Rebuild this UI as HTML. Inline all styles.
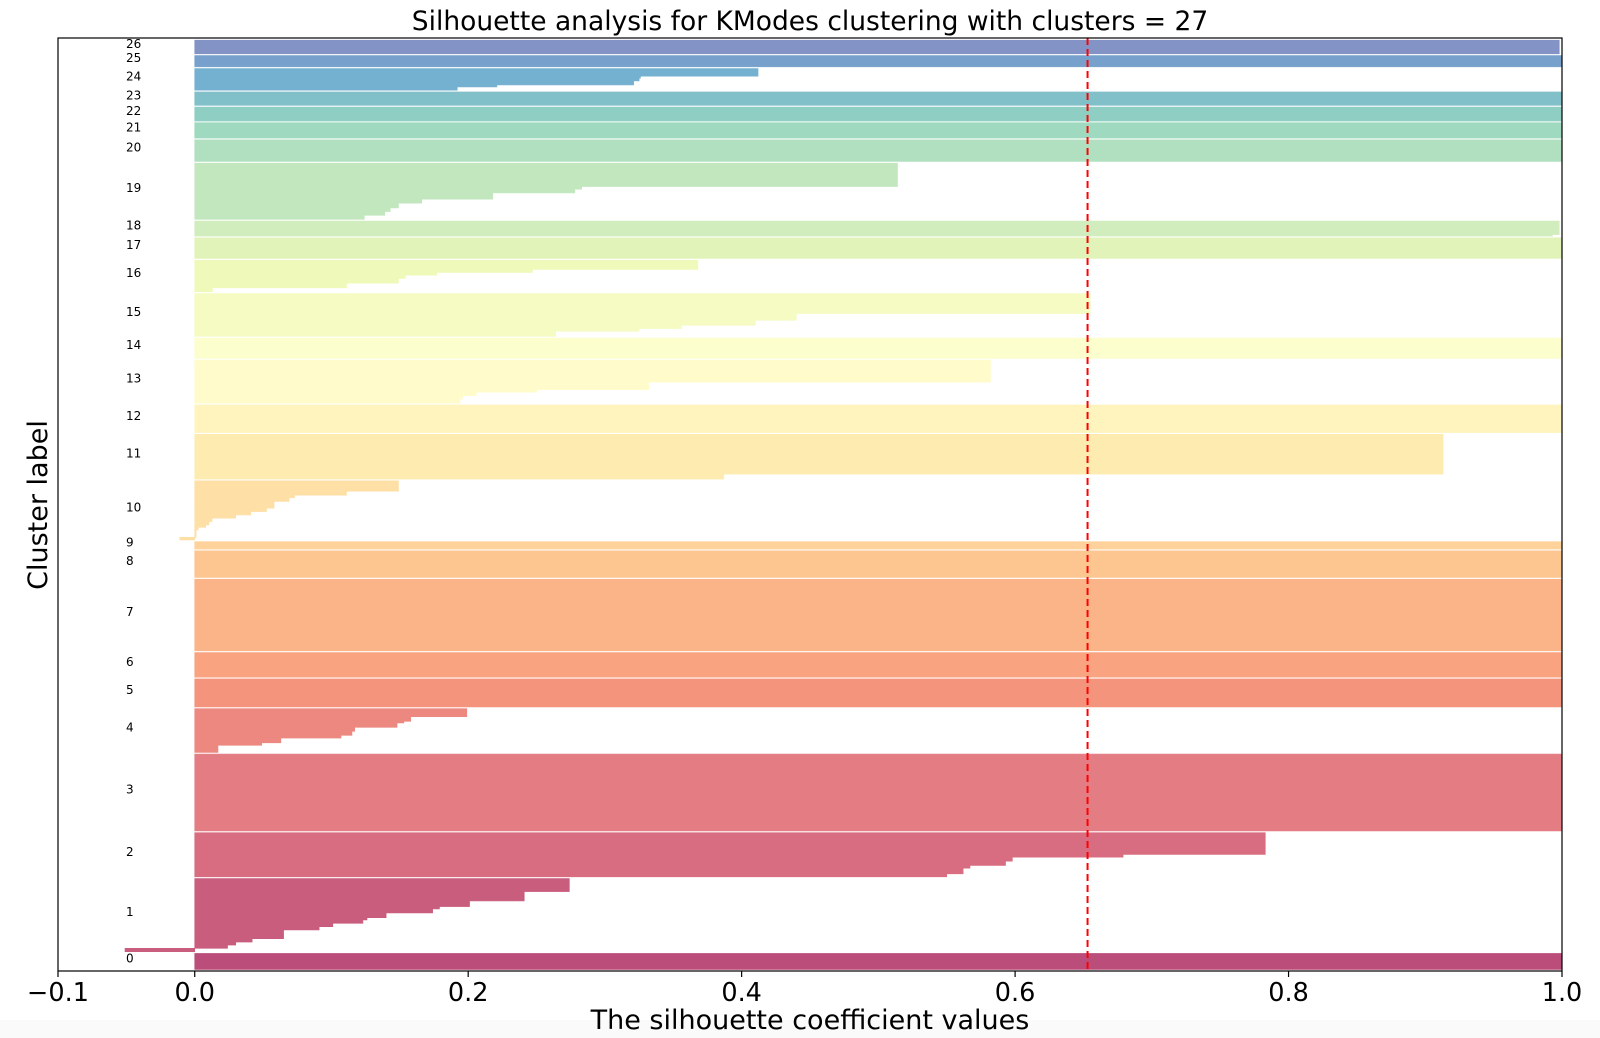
<!DOCTYPE html>
<html><head><meta charset="utf-8">
<style>
html,body{margin:0;padding:0;background:#fff;}
svg{display:block;font-family:"DejaVu Sans","Liberation Sans",sans-serif;}
</style></head>
<body>
<svg id="chart" width="1600" height="1038" viewBox="0 0 1600 1038" xmlns="http://www.w3.org/2000/svg">
  <rect x="0" y="1020" width="1600" height="18" fill="#fafafa"/>
  <text x="810" y="30" font-size="26.5" text-anchor="middle" fill="#000">Silhouette analysis for KModes clustering with clusters = 27</text>
  <g id="bands"></g>
  <g id="labels"></g>
  <g id="xaxis"></g>
  <line id="avgline" stroke="#ff0000" stroke-width="2" stroke-dasharray="7,4"/>
  <rect x="58" y="38" width="1504" height="933" fill="none" stroke="#000" stroke-width="1.2"/>
  <text x="810" y="1029" font-size="27" text-anchor="middle" fill="#000">The silhouette coefficient values</text>
  <text x="0" y="0" font-size="27" text-anchor="middle" fill="#000" transform="translate(47,505) rotate(-90)">Cluster label</text>
</svg>
<script>
const clusterValues = [
 [1.0],
 [0.274,0.241,0.201,0.179,0.174,0.140,0.126,0.123,0.101,0.091,0.065,0.042,0.030,0.024,-0.051],
 [0.783,0.679,0.598,0.593,0.567,0.562,0.550],
 [1.0],
 [0.199,0.158,0.153,0.148,0.117,0.115,0.107,0.063,0.049,0.017],
 [1.0],[1.0],[1.0],[1.0],[1.0],
 [0.149,0.111,0.073,0.069,0.058,0.0525,0.041,0.030,0.0127,0.0104,0.008,0.0026,0.001,-0.011],
 [0.913,0.387],
 [1.0],
 [0.582,0.332,0.250,0.206,0.196,0.194],
 [1.0],
 [0.655,0.44,0.41,0.356,0.325,0.264],
 [0.368,0.247,0.177,0.154,0.149,0.111,0.013],
 [1.0],
 [0.998,0.993],
 [0.514,0.283,0.278,0.218,0.166,0.149,0.143,0.139,0.124],
 [1.0],[1.0],[1.0],[1.0],
 [0.412,0.326,0.325,0.321,0.221,0.192],
 [1.0],
 [0.998]
];
const clusterCounts = [
 [16],
 [13,9.3,5.7,2.3,4,4.7,2.3,3.3,3.4,3.3,8.7,3.3,3,3.3,3.4],
 [21.7,2.7,4,4.3,2.7,5.6,3],
 [76.7],
 [8,4.6,1.7,4.3,4,4,2.7,4.7,2.6,7],
 [28],[24.6],[71.4],[26.6],[7.4],
 [10.3,4,2.7,3.6,6.7,3.3,3.4,3.3,3.3,3.4,2.3,2.7,7.3,2.7],
 [39.7,5],
 [27.6],
 [22,7.4,2.6,3.4,3.3,4.3],
 [20.3],
 [20,6.7,5,3.3,2.7,5],
 [9.3,3,2.7,3.3,4.7,4.6,4],
 [20.6],
 [13.5,1.5],
 [23.3,2.7,3.7,6.3,4,4.7,3.6,3.7,4],
 [21.6],[15.3],[14],[13.3],
 [7.6,2,2.7,4,2,3.3],
 [11.3],
 [13.6]
];
const xTicks = [-0.1,0.0,0.2,0.4,0.6,0.8,1.0];
const xTickLabels = ["\u22120.1","0.0","0.2","0.4","0.6","0.8","1.0"];
const averageScore = 0.653;

const NS = "http://www.w3.org/2000/svg";
const X0 = 58, X1 = 1562, Y0 = 38, Y1 = 971;
const gap = 1.7;
function xs(v){ return X0 + (v + 0.1) / 1.1 * (X1 - X0); }
let total = 0;
clusterCounts.forEach(c => c.forEach(n => total += n));
total += gap * (clusterCounts.length - 1);
const yMin = -1.5, yMax = total + 2.2;
function ys(s){ return Y1 - (s - yMin) / (yMax - yMin) * (Y1 - Y0); }

const stops = ["#9e0142","#d53e4f","#f46d43","#fdae61","#fee08b","#ffffbf","#e6f598","#abdda4","#66c2a5","#3288bd","#5e4fa2"];
function hex(h){ return [1,3,5].map(i => parseInt(h.substr(i,2),16)); }
function spectral(t){
  const p = t * 10, i = Math.min(9, Math.floor(p)), f = p - i;
  const a = hex(stops[i]), b = hex(stops[i+1]);
  const c = a.map((v,k) => Math.round((v + (b[k]-v)*f) * 0.7 + 255 * 0.3));
  return "rgb(" + c.join(",") + ")";
}

const bands = document.getElementById("bands");
const labels = document.getElementById("labels");
let yLower = 0;
const K = clusterValues.length;
for (let k = 0; k < K; k++) {
  const vals = clusterValues[k], cnts = clusterCounts[k];
  let size = 0; cnts.forEach(n => size += n);
  let s = yLower + size;
  let d = "M" + xs(0) + "," + ys(s);
  for (let i = 0; i < vals.length; i++) {
    const x = xs(vals[i]);
    d += " L" + x + "," + ys(s);
    s -= cnts[i];
    d += " L" + x + "," + ys(s);
  }
  d += " L" + xs(0) + "," + ys(yLower) + " Z";
  const p = document.createElementNS(NS, "path");
  p.setAttribute("d", d);
  p.setAttribute("fill", spectral(k / K));
  p.setAttribute("stroke", spectral(k / K));
  p.setAttribute("stroke-width", "0.6");
  
  
  bands.appendChild(p);
  const t = document.createElementNS(NS, "text");
  t.setAttribute("x", 126);
  t.setAttribute("y", ys(yLower + size / 2) + 1);
  t.setAttribute("font-size", "12");
  t.setAttribute("fill", "#000");
  t.textContent = String(k);
  
  
  labels.appendChild(t);
  yLower += size + gap;
}

const xaxis = document.getElementById("xaxis");
xTicks.forEach((v, i) => {
  const x = xs(v);
  const l = document.createElementNS(NS, "line");
  l.setAttribute("x1", x); l.setAttribute("x2", x);
  l.setAttribute("y1", Y1); l.setAttribute("y2", Y1 + 6);
  l.setAttribute("stroke", "#000"); l.setAttribute("stroke-width", "1.2");
  
  
  xaxis.appendChild(l);
  const t = document.createElementNS(NS, "text");
  t.setAttribute("x", x); t.setAttribute("y", Y1 + 30);
  t.setAttribute("font-size", "25.5"); t.setAttribute("text-anchor", "middle");
  t.textContent = xTickLabels[i];
  
  
  xaxis.appendChild(t);
});

const av = document.getElementById("avgline");
av.setAttribute("x1", xs(averageScore)); av.setAttribute("x2", xs(averageScore));
av.setAttribute("y1", Y0); av.setAttribute("y2", Y1);
</script>
</body></html>
